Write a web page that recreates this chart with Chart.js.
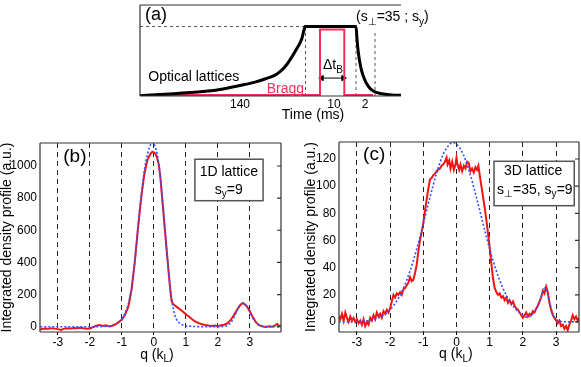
<!DOCTYPE html>
<html>
<head>
<meta charset="utf-8">
<script src="https://cdn.jsdelivr.net/npm/chart.js@4.4.1/dist/chart.umd.min.js"></script>
<style>
html, body { margin: 0; padding: 0; background: #fff; }
body { width: 581px; height: 367px; position: relative; overflow: hidden; }
.panel { position: absolute; }
</style>
</head>
<body>
<div class="panel" style="left:0;top:0;width:581px;height:130px"><canvas id="chartA"></canvas></div>
<div class="panel" style="left:0;top:130px;width:290px;height:237px"><canvas id="chartB"></canvas></div>
<div class="panel" style="left:290px;top:130px;width:291px;height:237px"><canvas id="chartC"></canvas></div>
<script>
var FONT = "'Liberation Sans', Arial, Helvetica, sans-serif";

// (a) timing sketch - x in sketch time units, y = lattice depth (1 = full)
var latticeT = [0, 20, 40, 60, 80, 100, 115, 125, 135, 140, 145, 150, 156.7, 161.7, 164, 165, 216, 217, 218.3, 220, 221.7, 224, 226.7, 230, 233.3, 238, 243.3, 252, 261.7];
var latticeS = [0.005, 0.02, 0.04, 0.06, 0.095, 0.152, 0.2, 0.245, 0.3, 0.35, 0.42, 0.52, 0.68, 0.82, 0.95, 1, 1, 0.82, 0.63, 0.47, 0.36, 0.26, 0.175, 0.11, 0.073, 0.045, 0.028, 0.015, 0.01];
var braggT = [0, 180, 180, 204.3, 204.3, 233];
var braggS = [0.014, 0.014, 0.958, 0.958, 0.014, 0.014];
var holdT = [0, 165];
var holdS = [1, 1];
var markT = [165.5, 216, 235];
var markTop = [1, 1, 0.93];
var arrowT = [181.7, 203.3];
var arrowS = 0.258;
var timeTickT = [100, 194, 225];
var timeTickLabels = ['140', '10', '2'];

// (b) 1D lattice
var qTicks = [-3, -2, -1, 0, 1, 2, 3];
var yTicksB = [0, 200, 400, 600, 800, 1000];
var qRedB = [-3.55, -3.5, -3.4, -3.3, -3.2, -3.1, -3.0, -2.9, -2.8, -2.7, -2.6, -2.5, -2.4, -2.3, -2.2, -2.1, -2.0, -1.9, -1.8, -1.7, -1.6, -1.5, -1.4, -1.3, -1.2, -1.1, -1.0, -0.9, -0.8, -0.7, -0.6, -0.5, -0.4, -0.3, -0.2, -0.1, -0.05, 0, 0.05, 0.1, 0.15, 0.2, 0.3, 0.4, 0.5, 0.55, 0.6, 0.7, 0.8, 0.9, 1.0, 1.1, 1.2, 1.3, 1.4, 1.5, 1.6, 1.7, 1.8, 1.9, 2.0, 2.1, 2.2, 2.3, 2.4, 2.5, 2.6, 2.7, 2.78, 2.9, 3.0, 3.1, 3.2, 3.3, 3.4, 3.5, 3.6, 3.7, 3.8, 3.85, 3.9, 3.96];
var redB = [-18, -14, -12, -13, -9, -12, -15, -20, -12, -9, -11, -8, -10, -7, -10, -13, -11, -3, 6, 11, 4, 9, 2, 6, 15, 28, 45, 75, 125, 230, 400, 610, 800, 950, 1040, 1078, 1088, 1085, 1075, 1050, 1010, 930, 700, 470, 250, 160, 140, 125, 110, 95, 78, 62, 45, 32, 22, 15, 10, 7, 5, 8, 3, 9, 12, 22, 42, 72, 105, 135, 147, 128, 95, 55, 25, 8, 1, -2, 3, 0, 10, 18, 5, 8];
var qFitB = [-3.55, -3, -2.5, -2, -1.6, -1.4, -1.3, -1.2, -1.1, -1.0, -0.9, -0.8, -0.7, -0.6, -0.5, -0.4, -0.3, -0.2, -0.1, -0.05, 0, 0.1, 0.2, 0.3, 0.4, 0.5, 0.6, 0.7, 0.8, 0.9, 1.0, 1.2, 1.5, 2.0, 2.2, 2.3, 2.4, 2.5, 2.6, 2.7, 2.78, 2.9, 3.0, 3.1, 3.2, 3.3, 3.4, 3.5, 3.97];
var fitB = [0, 0, 0, 0, 1, 3, 7, 15, 28, 50, 85, 140, 235, 400, 610, 810, 970, 1075, 1135, 1150, 1138, 1075, 935, 720, 480, 255, 115, 48, 22, 11, 6, 2, 0, 0, 2, 8, 25, 58, 102, 137, 146, 128, 90, 50, 22, 8, 2, 0, 0];

// (c) 3D lattice
var yTicksC = [0, 20, 40, 60, 80, 100, 120];
var qRedC = [-3.55, -3.5, -3.45, -3.4, -3.35, -3.3, -3.25, -3.2, -3.15, -3.1, -3.05, -3.0, -2.95, -2.9, -2.85, -2.8, -2.75, -2.7, -2.65, -2.6, -2.55, -2.5, -2.45, -2.4, -2.35, -2.3, -2.25, -2.2, -2.15, -2.1, -2.05, -2.0, -1.95, -1.9, -1.85, -1.8, -1.75, -1.7, -1.65, -1.6, -1.55, -1.5, -1.45, -1.4, -1.35, -1.3, -1.25, -1.2, -1.15, -1.1, -1.05, -1.0, -0.95, -0.9, -0.85, -0.8, -0.75, -0.7, -0.65, -0.6, -0.55, -0.5, -0.45, -0.4, -0.35, -0.3, -0.27, -0.22, -0.18, -0.13, -0.08, -0.03, 0.0, 0.03, 0.08, 0.12, 0.17, 0.22, 0.27, 0.32, 0.37, 0.42, 0.47, 0.52, 0.57, 0.62, 0.66, 0.7, 0.75, 0.8, 0.85, 0.9, 0.95, 1.0, 1.05, 1.1, 1.15, 1.2, 1.25, 1.3, 1.35, 1.4, 1.45, 1.5, 1.55, 1.6, 1.65, 1.7, 1.75, 1.8, 1.85, 1.9, 1.95, 2.0, 2.05, 2.1, 2.15, 2.2, 2.25, 2.3, 2.35, 2.4, 2.45, 2.5, 2.55, 2.6, 2.65, 2.7, 2.75, 2.8, 2.85, 2.9, 2.95, 3.0, 3.05, 3.1, 3.15, 3.2, 3.25, 3.3, 3.35, 3.4, 3.45, 3.5, 3.55, 3.6, 3.65, 3.69];
var redC = [4, 2, 6, 1, 7, 3, 0, 4, 1, 3, 0, 2, -1, 1, -2, 2, -3, 0, -2, 3, 1, 5, 2, 7, 4, 6, 3, 8, 6, 9, 7, 10, 15, 20, 18, 21, 20, 22, 20, 24, 25, 27, 29, 33, 30, 31, 36, 42, 52, 60, 66, 73, 82, 90, 98, 105, 106, 108, 109, 111, 112, 113, 115, 116, 118, 121, 116, 119, 113, 118, 112, 116, 121, 116, 112, 116, 111, 115, 113, 118, 117, 111, 113, 110, 114, 112, 115, 108, 100, 92, 84, 75, 65, 55, 43, 32, 25, 22, 20, 21, 18, 19, 16, 18, 14, 16, 13, 15, 12, 10, 9, 7, 5, 3, 5, 7, 4, 6, 5, 8, 7, 10, 12, 15, 18, 23, 21, 26, 22, 14, 9, 5, 3, 1, -1, 1, -3, -2, -5, -3, -6, -2, 1, 5, 2, 4, 1, 3];
var qFitC = [-3.55, -3.2, -3.0, -2.8, -2.6, -2.4, -2.2, -2.0, -1.8, -1.6, -1.4, -1.2, -1.0, -0.8, -0.6, -0.4, -0.2, -0.1, 0.0, 0.2, 0.4, 0.6, 0.8, 1.0, 1.2, 1.4, 1.6, 1.8, 2.0, 2.1, 2.2, 2.3, 2.4, 2.5, 2.6, 2.65, 2.7, 2.8, 2.9, 3.0, 3.2, 3.69];
var fitC = [0, 0, 0.3, 0.6, 1.3, 2.6, 5, 9, 15.4, 24.8, 37.6, 53.7, 72.3, 91.7, 109.6, 123.5, 131, 132, 131, 123.5, 109.6, 91.7, 72.3, 53.7, 37.6, 24.8, 15.4, 9, 5, 3.5, 4, 6, 9, 15, 22, 25, 24, 15, 6, 2, 0.3, 0];

function pts(xs, ys) {
    var out = [];
    for (var i = 0; i < xs.length; i++) {
        out.push({x: xs[i], y: Array.isArray(ys) ? ys[i] : ys});
    }
    return out;
}

// text with subscripts: parts = [[text, isSub], ...]
function richText(ctx, parts, x, y, size, align, color) {
    ctx.save();
    ctx.fillStyle = color || '#000';
    ctx.textBaseline = 'middle';
    ctx.textAlign = 'left';
    var widths = parts.map(function (p) {
        ctx.font = (p[1] ? size * 0.72 : size) + 'px ' + FONT;
        return ctx.measureText(p[0]).width;
    });
    var total = widths.reduce(function (a, b) { return a + b; }, 0);
    var cx = align === 'left' ? x : (align === 'right' ? x - total : x - total / 2);
    parts.forEach(function (p, i) {
        ctx.font = (p[1] ? size * 0.72 : size) + 'px ' + FONT;
        ctx.fillText(p[0], cx, p[1] ? y + size * 0.32 : y);
        cx += widths[i];
    });
    ctx.restore();
}

var sketchPlugin = {
    id: 'sketch',
    afterDatasetsDraw: function (chart) {
        var o = chart.options.plugins.sketch || {};
        var ctx = chart.ctx, a = chart.chartArea;
        var xs = chart.scales.x, ys = chart.scales.y;
        // legend box
        if (o.box) {
            var bx1 = xs.getPixelForValue(o.box[0]), bx2 = xs.getPixelForValue(o.box[1]);
            var by1 = ys.getPixelForValue(o.box[3]), by2 = ys.getPixelForValue(o.box[2]);
            ctx.save();
            ctx.fillStyle = '#fff';
            ctx.fillRect(bx1, by1, bx2 - bx1, by2 - by1);
            ctx.strokeStyle = '#555';
            ctx.lineWidth = 1.5;
            ctx.strokeRect(bx1, by1, bx2 - bx1, by2 - by1);
            ctx.restore();
        }
        // frame
        var sides = o.sides || 'tlbr';
        ctx.save();
        ctx.strokeStyle = '#333';
        ctx.lineWidth = 1.2;
        ctx.beginPath();
        if (sides.indexOf('t') >= 0) { ctx.moveTo(a.left, a.top); ctx.lineTo(a.right, a.top); }
        if (sides.indexOf('l') >= 0) { ctx.moveTo(a.left, a.top); ctx.lineTo(a.left, a.bottom); }
        if (sides.indexOf('b') >= 0) { ctx.moveTo(a.left, a.bottom); ctx.lineTo(a.right, a.bottom); }
        if (sides.indexOf('r') >= 0) { ctx.moveTo(a.right, a.top); ctx.lineTo(a.right, a.bottom); }
        ctx.stroke();
        // inward ticks on the right axis
        if (o.rightTicks) {
            ctx.beginPath();
            ys.ticks.forEach(function (t) {
                var py = ys.getPixelForValue(t.value);
                ctx.moveTo(a.right, py);
                ctx.lineTo(a.right - 4, py);
            });
            ctx.stroke();
        }
        ctx.restore();
    },
    afterDraw: function (chart) {
        var o = chart.options.plugins.sketch || {};
        var xs = chart.scales.x, ys = chart.scales.y;
        (o.notes || []).forEach(function (n) {
            richText(chart.ctx, n.parts, xs.getPixelForValue(n.x), ys.getPixelForValue(n.y), n.size || 14, n.align || 'center', n.color);
        });
    }
};

// ---- (a) ----
new Chart(document.getElementById('chartA'), {
    type: 'line',
    data: {
        datasets: [
            {data: pts(latticeT, latticeS), borderColor: '#000', borderWidth: 3, pointRadius: 0, cubicInterpolationMode: 'monotone', fill: false},
            {data: pts(braggT, braggS), borderColor: '#f0305a', borderWidth: 2, pointRadius: 0, tension: 0, fill: false},
            {data: pts(arrowT, arrowS), borderColor: '#000', backgroundColor: '#000', borderWidth: 1, pointStyle: 'triangle', pointRadius: 3, pointRotation: [-90, 90], fill: false},
            {data: pts(holdT, holdS), borderColor: '#555', borderWidth: 1, borderDash: [3, 3], pointRadius: 0, fill: false},
            {data: pts([markT[0], markT[0]], [0, markTop[0]]), borderColor: '#555', borderWidth: 1, borderDash: [3, 3], pointRadius: 0, fill: false},
            {data: pts([markT[1], markT[1]], [0, markTop[1]]), borderColor: '#555', borderWidth: 1, borderDash: [3, 3], pointRadius: 0, fill: false},
            {data: pts([markT[2], markT[2]], [0, markTop[2]]), borderColor: '#555', borderWidth: 1, borderDash: [3, 3], pointRadius: 0, fill: false}
        ]
    },
    options: {
        animation: false, responsive: true, maintainAspectRatio: false, events: [],
        layout: {padding: {left: 140, right: 180, top: 1, bottom: 0}},
        plugins: {
            legend: {display: false}, tooltip: {enabled: false},
            sketch: {
                sides: 'tlb',
                notes: [
                    {x: 5, y: 1.159, parts: [['(a)', 0]], size: 18, align: 'left'},
                    {x: 8.3, y: 0.27, parts: [['Optical lattices', 0]], size: 14, align: 'left'},
                    {x: 126.7, y: 0.103, parts: [['Bragg', 0]], size: 14, align: 'left', color: '#f0305a'},
                    {x: 193, y: 0.44, parts: [['\u0394t', 0], ['B', 1]], size: 14},
                    {x: 216, y: 1.13, parts: [['(s', 0], ['\u22a5', 1], ['=35 ; s', 0], ['y', 1], [')', 0]], size: 14, align: 'left'},
                    {x: 173, y: -0.276, parts: [['Time (ms)', 0]], size: 14}
                ]
            }
        },
        scales: {
            x: {
                type: 'linear', min: 0, max: 261,
                afterBuildTicks: function (s) { s.ticks = timeTickT.map(function (v) { return {value: v}; }); },
                afterFit: function (s) { s.height = 34; },
                grid: {display: false, drawTicks: false},
                border: {display: false},
                ticks: {
                    padding: 1, color: '#000', autoSkip: false, maxRotation: 0,
                    font: {family: FONT, size: 12},
                    callback: function (v, i) { return timeTickLabels[i]; }
                }
            },
            y: {type: 'linear', display: false, min: 0, max: 1.31}
        }
    },
    plugins: [sketchPlugin]
});

// ---- (b) and (c) ----
function profileChart(id, cfg) {
    return new Chart(document.getElementById(id), {
        type: 'line',
        data: {
            datasets: [
                {data: pts(cfg.fitQ, cfg.fit), borderColor: '#3050ff', borderWidth: 1.6, borderDash: [2, 2], pointRadius: 0, cubicInterpolationMode: 'monotone', fill: false},
                {data: pts(cfg.dataQ, cfg.data), borderColor: '#f01414', borderWidth: 2, pointRadius: 0, tension: 0, fill: false}
            ]
        },
        options: {
            animation: false, responsive: true, maintainAspectRatio: false, events: [],
            layout: {padding: cfg.padding},
            plugins: {
                legend: {display: false}, tooltip: {enabled: false},
                sketch: {sides: 'tlbr', rightTicks: true, box: cfg.box, notes: cfg.notes}
            },
            scales: {
                x: {
                    type: 'linear', min: cfg.xMin, max: cfg.xMax,
                    afterBuildTicks: function (s) { s.ticks = qTicks.map(function (v) { return {value: v}; }); },
                    afterFit: function (s) { s.height = 35; },
                    grid: {color: '#222', lineWidth: 1, drawTicks: true, tickLength: 3, tickColor: '#000', tickBorderDash: []},
                    border: {display: false, dash: [5, 4]},
                    ticks: {
                        padding: 0, color: '#000', autoSkip: false, maxRotation: 0,
                        font: {family: FONT, size: 12},
                        callback: function (v) { return String(v); }
                    }
                },
                y: {
                    type: 'linear', min: cfg.yMin, max: cfg.yMax,
                    afterBuildTicks: function (s) { s.ticks = cfg.yTicks.map(function (v) { return {value: v}; }); },
                    afterFit: function (s) { s.width = cfg.yWidth; },
                    grid: {display: false, drawTicks: false},
                    border: {display: false},
                    ticks: {
                        padding: 3, color: '#000', autoSkip: false,
                        font: {family: FONT, size: 12},
                        callback: function (v) { return String(v); }
                    },
                    title: {
                        display: true, text: 'Integrated density profile (a.u.)', color: '#000',
                        padding: 0, font: {family: FONT, size: 14, lineHeight: 1}
                    }
                }
            }
        },
        plugins: [sketchPlugin]
    });
}

profileChart('chartB', {
    dataQ: qRedB, data: redB, fitQ: qFitB, fit: fitB,
    xMin: -3.56, xMax: 3.97, yMin: -33, yMax: 1143, yTicks: yTicksB,
    yWidth: 40, padding: {left: 0, right: 9, top: 13, bottom: 0},
    box: [1.28, 3.41, 784, 1042],
    notes: [
        {x: -2.47, y: 1058, parts: [['(b)', 0]], size: 19},
        {x: 2.34, y: 960, parts: [['1D lattice', 0]], size: 14},
        {x: 2.34, y: 851, parts: [['s', 0], ['y', 1], ['=9', 0]], size: 14},
        {x: 0.094, y: -176, parts: [['q (k', 0], ['L', 1], [')', 0]], size: 14}
    ]
});

profileChart('chartC', {
    dataQ: qRedC, data: redC, fitQ: qFitC, fit: fitC,
    xMin: -3.54, xMax: 3.69, yMin: -7.4, yMax: 132.5, yTicks: yTicksC,
    yWidth: 35, padding: {left: 14, right: 2, top: 12, bottom: 0},
    box: [1.13, 3.547, 85.6, 118.3],
    notes: [
        {x: -2.48, y: 123.2, parts: [['(c)', 0]], size: 19},
        {x: 2.31, y: 111.4, parts: [['3D lattice', 0]], size: 14},
        {x: 2.36, y: 97.4, parts: [['s', 0], ['\u22a5', 1], ['=35, s', 0], ['y', 1], ['=9', 0]], size: 14},
        {x: -0.02, y: -24, parts: [['q (k', 0], ['L', 1], [')', 0]], size: 14}
    ]
});
</script>
</body>
</html>
